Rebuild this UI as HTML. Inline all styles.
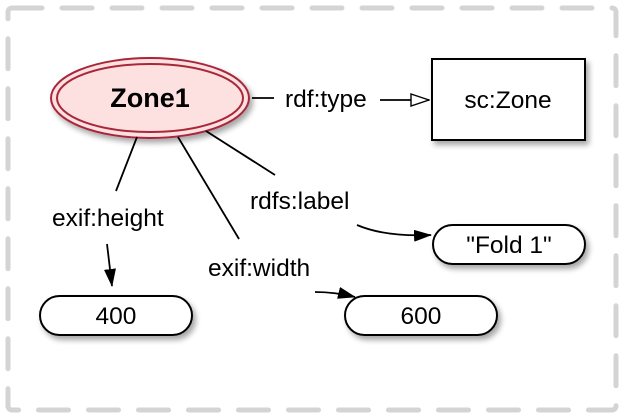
<!DOCTYPE html>
<html><head><style>body{margin:0;background:#fff}svg{display:block}</style></head><body>
<svg width="624" height="418" xmlns="http://www.w3.org/2000/svg" font-family="Liberation Sans, sans-serif">
<defs>
<filter id="sh" x="-20%" y="-20%" width="150%" height="160%"><feGaussianBlur in="SourceAlpha" stdDeviation="3"/><feOffset dx="3" dy="4"/><feComponentTransfer><feFuncA type="linear" slope="0.35"/></feComponentTransfer><feMerge><feMergeNode/><feMergeNode in="SourceGraphic"/></feMerge></filter>
<marker id="af" markerWidth="18" markerHeight="12" refX="17" refY="6" orient="auto" markerUnits="userSpaceOnUse"><path d="M0,0 L18,6 L0,12 z" fill="#000"/></marker>
<marker id="ah" markerWidth="20" markerHeight="14" refX="19" refY="7" orient="auto" markerUnits="userSpaceOnUse"><path d="M1,1 L19,7 L1,13 z" fill="#fff" stroke="#000" stroke-width="1.4"/></marker>
</defs>
<rect x="8" y="8" width="608" height="402" rx="4" fill="none" stroke="#d4d4d4" stroke-width="5" stroke-dasharray="30,20" stroke-linecap="round"/>
<g filter="url(#sh)">
<ellipse cx="150" cy="98" rx="99" ry="40" fill="#fde0e0" stroke="#a8283a" stroke-width="2"/>
</g>
<ellipse cx="150" cy="98" rx="93" ry="34" fill="none" stroke="#a8283a" stroke-width="2"/>
<text x="150" y="107" text-anchor="middle" font-size="27" font-weight="bold">Zone1</text>
<rect x="432" y="59" width="153" height="81" fill="#fff" stroke="#000" stroke-width="2" filter="url(#sh)"/>
<text x="508" y="108" text-anchor="middle" font-size="24.5">sc:Zone</text>
<rect x="433" y="225" width="152" height="39" rx="19.5" fill="#fff" stroke="#000" stroke-width="2" filter="url(#sh)"/>
<text x="509" y="253" text-anchor="middle" font-size="24.5">"Fold 1"</text>
<rect x="345" y="296" width="152" height="39" rx="19.5" fill="#fff" stroke="#000" stroke-width="2" filter="url(#sh)"/>
<text x="421" y="324" text-anchor="middle" font-size="24.5">600</text>
<rect x="40" y="296" width="152" height="39" rx="19.5" fill="#fff" stroke="#000" stroke-width="2" filter="url(#sh)"/>
<text x="116" y="324" text-anchor="middle" font-size="24.5">400</text>
<g stroke="#000" stroke-width="1.8" fill="none">
<line x1="252" y1="98" x2="274" y2="98"/>
<line x1="380" y1="100" x2="429" y2="100" marker-end="url(#ah)"/>
<line x1="137" y1="137" x2="116" y2="191"/>
<line x1="107" y1="244" x2="112" y2="286" marker-end="url(#af)"/>
<line x1="178" y1="137" x2="239" y2="239"/>
<path d="M315,292 Q335,292 355,297" marker-end="url(#af)"/>
<line x1="206" y1="131" x2="275" y2="175"/>
<path d="M357,225 Q385,237 431,235" marker-end="url(#af)"/>
</g>
<g font-size="24.5">
<text x="285" y="107">rdf:type</text>
<text x="52" y="226">exif:height</text>
<text x="208" y="276">exif:width</text>
<text x="250" y="209">rdfs:label</text>
</g>
</svg>
</body></html>
